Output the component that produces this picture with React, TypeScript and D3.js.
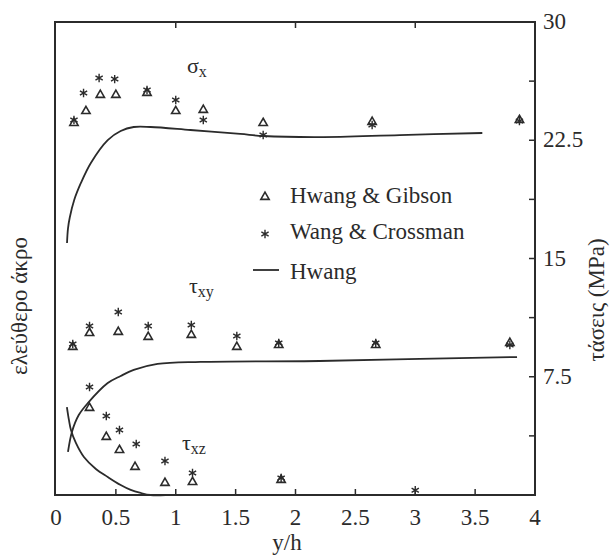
import React, { useEffect, useRef } from "react";
import * as d3 from "d3";

// x ticks / y ticks
const xTicks = [0, 0.5, 1, 1.5, 2, 2.5, 3, 3.5, 4];
const xTickLabels = ["0", "0.5", "1", "1.5", "2", "2.5", "3", "3.5", "4"];
const topTicks = [1, 2, 3];
const yTicks = [7.5, 15, 22.5, 30];
const yTickLabels = ["7.5", "15", "22.5", "30"];
const yMinorTicks = [3.75, 7.5, 11.25, 15, 18.75, 22.5, 26.25];

// sigma_x
const sigmaGibsonX = [0.15, 0.25, 0.37, 0.5, 0.76, 1.0, 1.23, 1.73, 2.64, 3.87];
const sigmaGibsonY = [23.59, 24.35, 25.37, 25.37, 25.5, 24.35, 24.42, 23.59, 23.66, 23.78];
const sigmaWangX = [0.15, 0.23, 0.36, 0.49, 0.76, 1.0, 1.23, 1.73, 2.64, 3.87];
const sigmaWangY = [23.78, 25.5, 26.45, 26.38, 25.69, 25.05, 23.78, 22.83, 23.47, 23.72];
const sigmaHwangX = [0.092, 0.1, 0.115, 0.152, 0.208, 0.291, 0.432, 0.54, 0.649, 0.79, 1.123, 1.538, 1.73, 2.2, 2.87, 3.56];
const sigmaHwangY = [15.98, 16.9, 17.6, 18.71, 19.79, 21.06, 22.51, 23.09, 23.34, 23.34, 23.15, 22.9, 22.77, 22.7, 22.83, 22.96];

// tau_xy
const tauxyGibsonX = [0.14, 0.28, 0.52, 0.77, 1.13, 1.51, 1.86, 2.67, 3.79];
const tauxyGibsonY = [9.39, 10.27, 10.34, 10.02, 10.15, 9.39, 9.51, 9.51, 9.64];
const tauxyWangX = [0.14, 0.28, 0.52, 0.77, 1.13, 1.51, 1.86, 2.67, 3.79];
const tauxyWangY = [9.58, 10.72, 11.61, 10.72, 10.78, 10.08, 9.64, 9.64, 9.51];
const tauxyHwangX = [0.1, 0.133, 0.19, 0.266, 0.432, 0.54, 0.649, 0.848, 1.206, 2.2, 3.04, 3.85];
const tauxyHwangY = [2.73, 4.0, 5.07, 5.83, 7.1, 7.55, 7.93, 8.31, 8.44, 8.5, 8.63, 8.75];

// tau_xz
const tauxzGibsonX = [0.28, 0.42, 0.53, 0.66, 0.91, 1.14, 1.88];
const tauxzGibsonY = [5.52, 3.68, 2.85, 1.78, 0.76, 0.82, 0.95];
const tauxzWangX = [0.28, 0.42, 0.53, 0.67, 0.91, 1.14, 1.88, 3.0];
const tauxzWangY = [6.85, 5.01, 4.12, 3.23, 2.16, 1.4, 1.08, 0.3];
const tauxzHwangX = [0.091, 0.108, 0.125, 0.166, 0.233, 0.333, 0.432, 0.54, 0.624, 0.707, 0.79, 0.915];
const tauxzHwangY = [5.58, 4.76, 4.12, 3.3, 2.41, 1.65, 1.14, 0.63, 0.32, 0.13, 0.0, 0.0];

const legendLabels = ["Hwang & Gibson", "Wang & Crossman", "Hwang"];

const font = "'Liberation Serif', 'Times New Roman', 'DejaVu Serif', serif";
const ink = "#2b2b2b";

const starPath = (cx: number, cy: number, r: number) => {
  let d = "";
  [90, 30, 150].forEach((a) => {
    const dx = r * Math.cos((a * Math.PI) / 180);
    const dy = r * Math.sin((a * Math.PI) / 180);
    d += `M${cx - dx},${cy - dy}L${cx + dx},${cy + dy}`;
  });
  return d;
};

const App = () => {
  const ref = useRef<SVGSVGElement>(null);

  useEffect(() => {
    const svg = d3.select(ref.current);
    svg.selectAll("*").remove();

    const x = d3.scaleLinear().domain([0, 4]).range([56, 535]);
    const y = d3.scaleLinear().domain([0, 30]).range([495, 22]);

    const tri = d3.symbol().type(d3.symbolTriangle).size(30);

    // frame
    svg.append("rect")
      .attr("x", x(0) - 1)
      .attr("y", y(30))
      .attr("width", x(4) - x(0) + 1)
      .attr("height", y(0) - y(30))
      .attr("fill", "none")
      .attr("stroke", ink)
      .attr("stroke-width", 2);

    // ticks
    svg.append("g").selectAll("line")
      .data(xTicks.slice(1, -1))
      .join("line")
      .attr("x1", (d) => x(d)).attr("x2", (d) => x(d))
      .attr("y1", y(0)).attr("y2", y(0) - 6)
      .attr("stroke", ink).attr("stroke-width", 1.5);
    svg.append("g").selectAll("line")
      .data(topTicks)
      .join("line")
      .attr("x1", (d) => x(d)).attr("x2", (d) => x(d))
      .attr("y1", y(30)).attr("y2", y(30) + 6)
      .attr("stroke", ink).attr("stroke-width", 1.5);
    svg.append("g").selectAll("line")
      .data(yMinorTicks)
      .join("line")
      .attr("x1", x(4)).attr("x2", x(4) - 6)
      .attr("y1", (d) => y(d)).attr("y2", (d) => y(d))
      .attr("stroke", ink).attr("stroke-width", 1.5);

    const txt = (sel: any, size: number) =>
      sel.style("font-family", font).style("font-size", size + "px").attr("fill", ink);

    // tick labels
    txt(svg.append("g").selectAll("text")
      .data(xTicks)
      .join("text")
      .attr("x", (d) => x(d))
      .attr("y", 525)
      .attr("text-anchor", "middle"), 23)
      .text((d, i) => xTickLabels[i]);
    txt(svg.append("g").selectAll("text")
      .data(yTicks)
      .join("text")
      .attr("x", 543)
      .attr("y", (d) => y(d) + 7), 23)
      .text((d, i) => yTickLabels[i]);

    // axis titles
    txt(svg.append("text")
      .attr("x", 287).attr("y", 550)
      .attr("text-anchor", "middle"), 23)
      .text("y/h");
    txt(svg.append("text")
      .attr("transform", "translate(27,306) rotate(-90)")
      .attr("text-anchor", "middle"), 23)
      .text("ελεύθερο άκρο");
    txt(svg.append("text")
      .attr("transform", "translate(604,300) rotate(-90)")
      .attr("text-anchor", "middle"), 23)
      .text("τάσεις (MPa)");

    // curves
    const line = d3.line<number>().curve(d3.curveCatmullRom.alpha(0.5));
    const curves = [
      [sigmaHwangX, sigmaHwangY],
      [tauxyHwangX, tauxyHwangY],
      [tauxzHwangX, tauxzHwangY],
    ];
    curves.forEach(([xs, ys]) => {
      svg.append("path")
        .attr("d", line.x((d, i) => x(xs[i])).y((d) => y(d))(ys))
        .attr("fill", "none")
        .attr("stroke", ink)
        .attr("stroke-width", 1.8);
    });

    // markers
    const gibson = [
      [sigmaGibsonX, sigmaGibsonY],
      [tauxyGibsonX, tauxyGibsonY],
      [tauxzGibsonX, tauxzGibsonY],
    ];
    gibson.forEach(([xs, ys]) => {
      svg.append("g").selectAll("path")
        .data(ys)
        .join("path")
        .attr("transform", (d, i) => `translate(${x(xs[i])},${y(d)})`)
        .attr("d", tri)
        .attr("fill", "none")
        .attr("stroke", ink)
        .attr("stroke-width", 1.6);
    });
    const wang = [
      [sigmaWangX, sigmaWangY],
      [tauxyWangX, tauxyWangY],
      [tauxzWangX, tauxzWangY],
    ];
    wang.forEach(([xs, ys]) => {
      svg.append("g").selectAll("path")
        .data(ys)
        .join("path")
        .attr("d", (d, i) => starPath(x(xs[i]), y(d), 4.2))
        .attr("fill", "none")
        .attr("stroke", ink)
        .attr("stroke-width", 1.4);
    });

    // series labels
    const label = (lx: number, ly: number, main: string, sub: string) => {
      const t = svg.append("text")
        .attr("x", lx).attr("y", ly)
        .style("font-family", font).attr("fill", ink);
      t.append("tspan").style("font-size", "22px").text(main);
      t.append("tspan").style("font-size", "16px").attr("dy", 4).text(sub);
    };
    label(187, 73, "σ", "x");
    label(189, 293, "τ", "xy");
    label(182, 450, "τ", "xz");

    // legend
    const lg = svg.append("g");
    lg.append("path")
      .attr("transform", "translate(265,197)")
      .attr("d", tri)
      .attr("fill", "none").attr("stroke", ink).attr("stroke-width", 1.6);
    lg.append("path")
      .attr("d", starPath(265, 234, 4.2))
      .attr("fill", "none").attr("stroke", ink).attr("stroke-width", 1.4);
    lg.append("line")
      .attr("x1", 253).attr("x2", 279).attr("y1", 270).attr("y2", 270)
      .attr("stroke", ink).attr("stroke-width", 1.8);
    txt(lg.selectAll("text")
      .data(legendLabels)
      .join("text")
      .attr("x", 290)
      .attr("y", (d, i) => [203, 239, 279][i]), 23)
      .text((d) => d);
  }, []);

  return (
    <svg
      ref={ref}
      width={610}
      height={555}
      style={{ position: "absolute", left: 0, top: 0, background: "#fff" }}
    />
  );
};

export default App;
